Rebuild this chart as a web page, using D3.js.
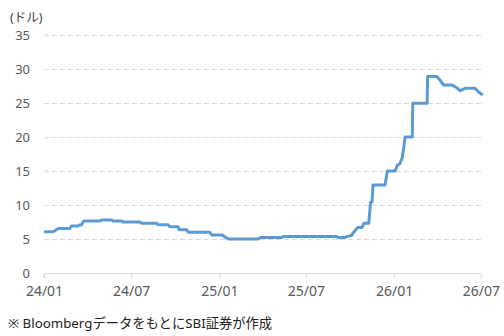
<!DOCTYPE html>
<html><head><meta charset="utf-8">
<script src="https://cdn.jsdelivr.net/npm/d3@7"></script>
<style>
html,body{margin:0;padding:0;background:#fff;}
svg{display:block;}
text{font-family:"Noto Sans","Noto Sans CJK JP",sans-serif;}
</style></head>
<body>
<svg id="c" width="504" height="336"></svg>
<script>
const dates = ["2024-01-01","2024-01-20","2024-01-31","2024-02-24","2024-02-27","2024-03-12","2024-03-14","2024-03-19","2024-03-23","2024-03-26","2024-04-27","2024-04-30","2024-05-21","2024-05-24","2024-06-11","2024-06-14","2024-07-19","2024-07-23","2024-08-23","2024-08-26","2024-09-16","2024-09-20","2024-10-07","2024-10-09","2024-10-25","2024-10-28","2024-12-12","2024-12-16","2025-01-06","2025-01-20","2025-03-23","2025-03-27","2025-05-11","2025-05-15","2025-09-03","2025-09-06","2025-09-20","2025-09-24","2025-10-05","2025-10-07","2025-10-17","2025-10-26","2025-10-30","2025-11-09","2025-11-13","2025-11-16","2025-11-18","2025-12-13","2025-12-18","2026-01-03","2026-01-08","2026-01-13","2026-01-18","2026-01-20","2026-01-24","2026-02-08","2026-02-09","2026-03-11","2026-03-12","2026-03-31","2026-04-03","2026-04-07","2026-04-14","2026-05-01","2026-05-08","2026-05-15","2026-05-19","2026-05-29","2026-06-19","2026-06-26","2026-07-05"];
const prices = [6.1,6.1,6.6,6.6,6.95,6.95,7.1,7.1,7.6,7.7,7.7,7.85,7.85,7.7,7.7,7.55,7.55,7.35,7.35,7.15,7.15,6.85,6.85,6.4,6.4,6.05,6.05,5.65,5.65,5.05,5.05,5.25,5.25,5.4,5.4,5.25,5.25,5.4,5.6,5.9,6.75,6.75,7.35,7.35,10.5,10.5,13.0,13.0,15.05,15.05,15.9,16.1,17.0,17.9,20.05,20.05,25.0,25.0,28.95,28.95,28.7,28.4,27.7,27.7,27.45,27.1,26.85,27.2,27.2,26.7,26.2];
const xTickDates = ["2024-01-01","2024-07-01","2025-01-01","2025-07-01","2026-01-01","2026-07-01"];
const xTickLabels = ["24/01","24/07","25/01","25/07","26/01","26/07"];
const yTicks = [0,5,10,15,20,25,30,35];
const unitLabel = "(ドル)";
const sourceNote = "※ Bloombergデータをもとに SBI証券が作成".replace("に S", "にS");

const parse = d3.utcParse("%Y-%m-%d");
const data = dates.map((d,i)=>({date:parse(d), v:prices[i]}));

const svg = d3.select("#c");
const x = d3.scaleUtc().domain([parse("2024-01-01"), parse("2026-07-05")]).range([44, 482.7]);
const y = d3.scaleLinear().domain([0,35]).range([273.3, 35.3]);

// gridlines
svg.append("g").selectAll("line").data(yTicks.filter(t=>t>0)).join("line")
  .attr("x1", 44).attr("x2", 482.7)
  .attr("y1", d=>Math.round(y(d))+0.5).attr("y2", d=>Math.round(y(d))+0.5)
  .attr("stroke", "#d9d9d9").attr("stroke-width", 1).attr("stroke-dasharray", "5,3");

// y labels
svg.append("g").selectAll("text").data(yTicks).join("text")
  .attr("x", 30).attr("y", d=>y(d)).attr("dy", "0.35em")
  .attr("text-anchor", "end").attr("font-size", 13).attr("fill", "#595959")
  .text(d=>d);

// x axis
const tickDates = xTickDates.map(parse);
const xAxis = d3.axisBottom(x).tickValues(tickDates).tickSize(5)
  .tickFormat((d,i)=>xTickLabels[i]);
const gx = svg.append("g").attr("transform", `translate(0,${Math.round(y(0))+0.5})`).call(xAxis);
gx.select(".domain").attr("stroke", "#d9d9d9").attr("d", `M44,5V0H${x(tickDates[tickDates.length-1])}`);
gx.selectAll(".tick line").attr("stroke", "#d9d9d9");
gx.selectAll(".tick text").attr("font-size", 14).attr("fill", "#595959")
  .attr("font-family", "'Noto Sans',sans-serif").attr("y", 13).attr("dy", "0.71em");

// line
const line = d3.line().x(d=>x(d.date)).y(d=>y(d.v));
svg.append("path").datum(data).attr("d", line)
  .attr("fill", "none").attr("stroke", "#5B9BD5").attr("stroke-width", 3)
  .attr("stroke-linejoin", "round");

// unit label
svg.append("text").attr("x", 10).attr("y", 22).attr("font-size", 12.5).attr("fill", "#404040")
  .text(unitLabel);

// source note
svg.append("text").attr("x", 8).attr("y", 328).attr("font-size", 13.3).attr("fill", "#222")
  .text(sourceNote);
</script>
</body></html>
